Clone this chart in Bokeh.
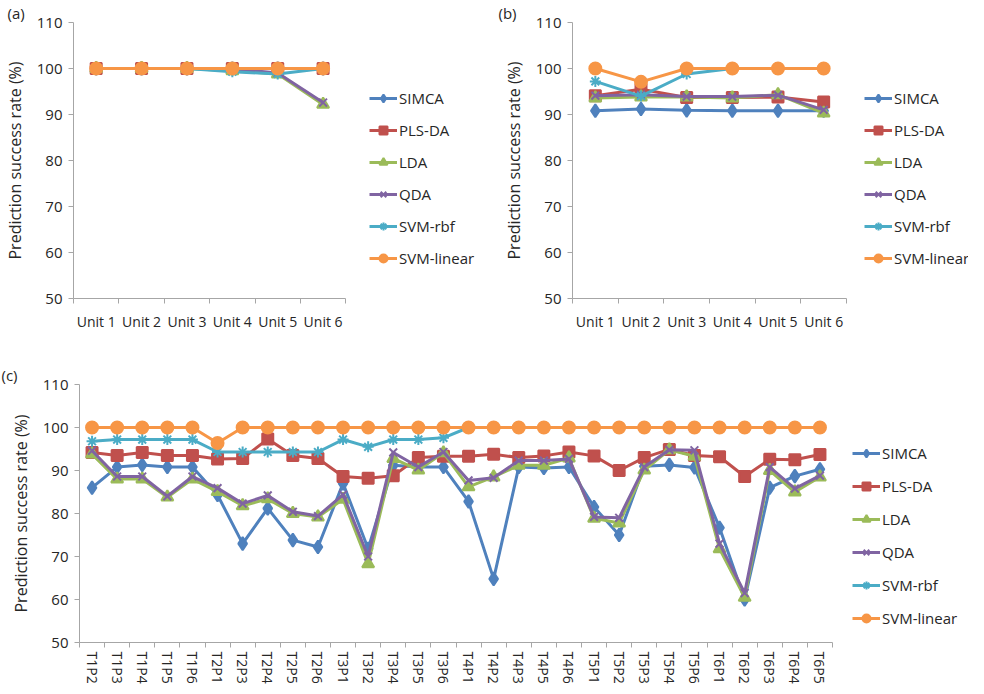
from bokeh.plotting import figure
from bokeh.models import (Legend, LegendItem, FixedTicker, Range1d)
from bokeh.layouts import column, row
from bokeh.embed import file_html
from bokeh.resources import INLINE

FONT = "Open Sans"
TEXT = "#262626"
AXIS = "#a6a6a6"

methods = ["SIMCA", "PLS-DA", "LDA", "QDA", "SVM-rbf", "SVM-linear"]
colors = ["#4F81BD", "#C0504D", "#9BBB59", "#8064A2", "#4BACC6", "#F79646"]
markers = ["diamond", "square", "triangle", "x", "asterisk", "circle"]
msizes = [13, 11, 12, 11, 11, 12]

y_ticks = [50, 60, 70, 80, 90, 100, 110]

# ---- panel (a)
units = ["Unit 1", "Unit 2", "Unit 3", "Unit 4", "Unit 5", "Unit 6"]
a_simca = [100, 100, 100, 100, 100, 100]
a_plsda = [100, 100, 100, 100, 100, 100]
a_lda = [100, 100, 100, 99.5, 98.8, 92.2]
a_qda = [100, 100, 100, 100, 99.0, 92.6]
a_svm_rbf = [100, 100, 100, 99.3, 98.8, 100]
a_svm_linear = [100, 100, 100, 100, 100, 100]

# ---- panel (b)
b_simca = [90.8, 91.2, 90.9, 90.8, 90.8, 90.8]
b_plsda = [94.1, 95.5, 93.7, 93.7, 93.8, 92.7]
b_lda = [93.6, 93.8, 93.8, 93.6, 94.3, 90.3]
b_qda = [94.1, 94.3, 93.9, 93.9, 94.2, 91.0]
b_svm_rbf = [97.2, 94.0, 98.8, 100, 100, 100]
b_svm_linear = [100, 97.1, 100, 100, 100, 100]

# ---- panel (c)
pairs = ["T1P2", "T1P3", "T1P4", "T1P5", "T1P6", "T2P1", "T2P3", "T2P4", "T2P5", "T2P6",
         "T3P1", "T3P2", "T3P4", "T3P5", "T3P6", "T4P1", "T4P2", "T4P3", "T4P5", "T4P6",
         "T5P1", "T5P2", "T5P3", "T5P4", "T5P6", "T6P1", "T6P2", "T6P3", "T6P4", "T6P5"]
c_simca = [86.0, 90.8, 91.3, 90.8, 90.8, 84.3, 73.0, 81.2, 73.8, 72.2,
           87.0, 71.8, 91.2, 90.8, 90.8, 82.8, 64.8, 90.8, 90.6, 90.8,
           81.5, 75.0, 91.0, 91.3, 90.7, 76.7, 60.0, 86.0, 88.7, 90.3]
c_plsda = [94.2, 93.5, 94.2, 93.5, 93.5, 92.7, 92.8, 97.3, 93.5, 92.8,
           88.6, 88.2, 88.8, 93.0, 93.3, 93.3, 93.8, 93.0, 93.4, 94.3,
           93.4, 90.0, 93.0, 94.9, 93.5, 93.2, 88.6, 92.6, 92.5, 93.7]
c_lda = [93.8, 88.0, 88.0, 83.8, 88.0, 85.1, 81.8, 83.4, 80.0, 79.2,
         83.3, 68.3, 92.8, 90.1, 94.1, 86.2, 88.5, 91.2, 91.2, 92.9,
         78.9, 77.8, 90.1, 94.8, 93.3, 71.8, 60.5, 90.0, 85.0, 88.5]
c_qda = [94.6, 88.6, 88.6, 84.0, 88.6, 85.9, 82.3, 84.2, 80.4, 79.4,
         84.4, 70.0, 94.2, 90.8, 94.3, 87.7, 88.3, 92.3, 92.3, 92.7,
         79.2, 79.0, 90.8, 94.8, 94.7, 73.0, 61.5, 90.8, 85.8, 88.8]
c_svm_rbf = [96.8, 97.2, 97.2, 97.2, 97.2, 94.3, 94.3, 94.3, 94.3, 94.3,
             97.2, 95.5, 97.2, 97.2, 97.6, 100, 100, 100, 100, 100,
             100, 100, 100, 100, 100, 100, 100, 100, 100, 100]
c_svm_linear = [100, 100, 100, 100, 100, 96.4, 100, 100, 100, 100,
                100, 100, 100, 100, 100, 100, 100, 100, 100, 100,
                100, 100, 100, 100, 100, 100, 100, 100, 100, 100]


def make_panel(cats, series, tag, width, height, left, plot_w, top, bottom,
               xfont, vertical, leg_spacing, leg_dx, leg_dy, tag_offset):
    n = len(cats)
    frame_w = width - left
    # category slots: category i sits at the centre of slot [i, i+1];
    # the frame continues to the right of the last slot to hold the legend
    xs = [i + 0.5 for i in range(n)]
    x_end = n * frame_w / plot_w
    p = figure(x_range=Range1d(0, x_end), y_range=Range1d(50, 110),
               width=width, height=height,
               min_border_left=left, min_border_right=0,
               min_border_top=top, min_border_bottom=bottom,
               output_backend="svg", toolbar_location=None)
    p.outline_line_color = None
    p.xgrid.visible = False
    p.ygrid.visible = False

    # panel tag
    p.title.text = tag
    p.title.align = "left"
    p.title.offset = tag_offset
    p.title.standoff = 0
    p.title.text_font = FONT
    p.title.text_font_size = "15px"
    p.title.text_font_style = "normal"
    p.title.text_color = TEXT

    # y axis
    p.yaxis.ticker = FixedTicker(ticks=y_ticks)
    p.yaxis.axis_label = "Prediction success rate (%)"
    p.yaxis.axis_label_text_font = FONT
    p.yaxis.axis_label_text_font_style = "normal"
    p.yaxis.axis_label_text_font_size = "16px"
    p.yaxis.axis_label_text_color = TEXT
    p.yaxis.axis_label_standoff = 8
    p.yaxis.major_label_text_font = FONT
    p.yaxis.major_label_text_font_size = "15px"
    p.yaxis.major_label_text_color = TEXT
    p.yaxis.major_label_standoff = 6
    p.yaxis.axis_line_color = AXIS
    p.yaxis.major_tick_line_color = AXIS
    p.yaxis.major_tick_in = 0
    p.yaxis.major_tick_out = 5
    p.yaxis.minor_tick_line_color = None

    # x axis: labels at slot centres, tick marks at slot boundaries
    p.xaxis.bounds = (0, n)
    p.xaxis.ticker = FixedTicker(ticks=xs, minor_ticks=list(range(n + 1)))
    p.xaxis.major_label_overrides = {x: c for x, c in zip(xs, cats)}
    p.xaxis.major_tick_line_color = None
    p.xaxis.major_tick_in = 0
    p.xaxis.major_tick_out = 5
    p.xaxis.minor_tick_line_color = AXIS
    p.xaxis.minor_tick_in = 0
    p.xaxis.minor_tick_out = 5
    p.xaxis.axis_line_color = AXIS
    p.xaxis.major_label_text_font = FONT
    p.xaxis.major_label_text_font_size = xfont
    p.xaxis.major_label_text_color = TEXT
    p.xaxis.major_label_standoff = 4 if vertical else 8
    if vertical:
        p.xaxis.major_label_orientation = "vertical"

    items = []
    for name, vals, col, mk, ms in zip(methods, series, colors, markers, msizes):
        lr = p.line(xs, vals, line_color=col, line_width=3)
        sr = p.scatter(xs, vals, marker=mk, size=ms, fill_color=col,
                       line_color=col, line_width=2)
        items.append(LegendItem(label=name, renderers=[lr, sr]))
    leg = Legend(items=items, location=(plot_w + leg_dx, leg_dy),
                 border_line_color=None, background_fill_alpha=0,
                 label_text_font=FONT, label_text_font_size="15px",
                 label_text_color=TEXT, glyph_width=28, glyph_height=20,
                 label_height=20, spacing=leg_spacing, label_standoff=2,
                 padding=2, margin=0)
    p.add_layout(leg)
    return p


pa = make_panel(units, [a_simca, a_plsda, a_lda, a_qda, a_svm_rbf, a_svm_linear],
                "(a)", 478, 342, 66, 277, 16, 44, "14px", False, 12, 19, 30, -66)
pb = make_panel(units, [b_simca, b_plsda, b_lda, b_qda, b_svm_rbf, b_svm_linear],
                "(b)", 490, 342, 94, 274, 16, 44, "14px", False, 12, 18, 30, -74)
pc = make_panel(pairs, [c_simca, c_plsda, c_lda, c_qda, c_svm_rbf, c_svm_linear],
                "(c)", 968, 344, 79, 753, 42, 40, "14px", True, 13, 20, 14, -78)

layout = column(row(pa, pb), pc)
open("out.html", "w").write(file_html(layout, INLINE))
